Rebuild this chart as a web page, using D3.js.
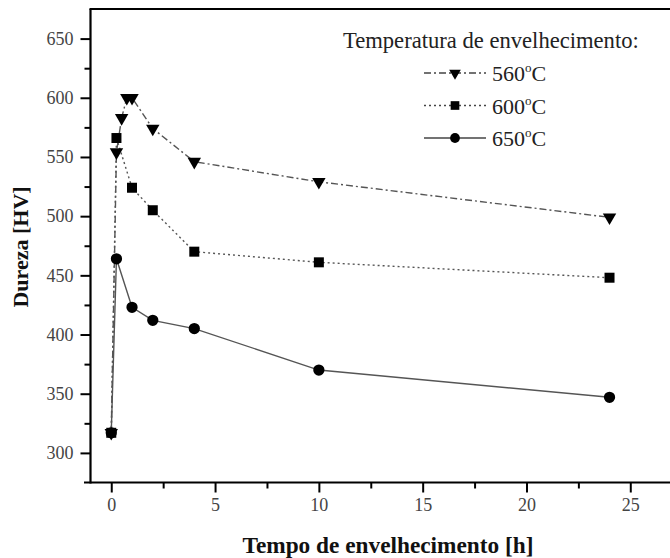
<!DOCTYPE html>
<html><head><meta charset="utf-8">
<script src="https://cdn.jsdelivr.net/npm/d3@7"></script>
<style>
body{margin:0;background:#fff;}
svg{display:block;}
text{font-family:"Liberation Serif","Times New Roman",serif;}
</style></head>
<body><svg id="c" width="670" height="558"></svg>
<script>
// Data (hours, hardness HV)
const times560 = [0, 0.25, 0.5, 0.75, 1, 2, 4, 10, 24];
const hv560    = [317, 554, 583, 600, 600, 574, 546, 529, 499];
const times600 = [0, 0.25, 1, 2, 4, 10, 24];
const hv600    = [317, 566, 524, 505, 470, 461, 448];
const times650 = [0, 0.25, 1, 2, 4, 10, 24];
const hv650    = [317, 464, 423, 412, 405, 370, 347];
const seriesNames = ["560", "600", "650"];
const xTicks = [0, 5, 10, 15, 20, 25];
const xMinor = [2.5, 7.5, 12.5, 17.5, 22.5];
const yTicks = [300, 350, 400, 450, 500, 550, 600, 650];
const yMinor = [325, 375, 425, 475, 525, 575, 625];

const svg = d3.select("#c");
const x = d3.scaleLinear().domain([-1, 27]).range([90.5, 671.8]);
const y = d3.scaleLinear().domain([275, 675]).range([482.5, 9]);

const series = [
  {name: seriesNames[0], t: times560, v: hv560, dash: "7,3,2,3", sym: d3.symbolTriangle, rot: 180, size: 78},
  {name: seriesNames[1], t: times600, v: hv600, dash: "2,3", sym: d3.symbolSquare, rot: 0, size: 100},
  {name: seriesNames[2], t: times650, v: hv650, dash: null, sym: d3.symbolCircle, rot: 0, size: 100}
];

// frame
svg.append("line").attr("x1", 84).attr("x2", 672).attr("y1", y(275)).attr("y2", y(275)).attr("stroke", "#000").attr("stroke-width", 2.2);
svg.append("line").attr("x1", x(-1)).attr("x2", x(-1)).attr("y1", y(675)).attr("y2", y(275)+1).attr("stroke", "#000").attr("stroke-width", 2.2);
svg.append("line").attr("x1", x(-1)-1).attr("x2", 672).attr("y1", y(675)).attr("y2", y(675)).attr("stroke", "#000").attr("stroke-width", 2.2);

// axes
const gx = svg.append("g").attr("transform", `translate(0,${y(275)})`)
  .call(d3.axisBottom(x).tickValues(xTicks).tickSize(10).tickPadding(6).tickFormat(d3.format("d")));
const gxm = svg.append("g").attr("transform", `translate(0,${y(275)})`)
  .call(d3.axisBottom(x).tickValues(xMinor).tickSize(6).tickFormat(""));
const gy = svg.append("g").attr("transform", `translate(${x(-1)},0)`)
  .call(d3.axisLeft(y).tickValues(yTicks).tickSize(10).tickPadding(7).tickFormat(d3.format("d")));
const gym = svg.append("g").attr("transform", `translate(${x(-1)},0)`)
  .call(d3.axisLeft(y).tickValues(yMinor).tickSize(6).tickFormat(""));
[gx, gxm, gy, gym].forEach(g => {
  g.select(".domain").remove();
  g.selectAll(".tick line").attr("stroke", "#000").attr("stroke-width", 2);
  g.selectAll(".tick text").attr("font-size", 18).attr("fill", "#444")
    .attr("font-family", "Liberation Serif, serif");
});

// lines & markers
const line = d3.line().x(d => x(d[0])).y(d => y(d[1]));
[series[2], series[0], series[1]].forEach(s => {
  const pts = s.t.map((t, i) => [t, s.v[i]]);
  svg.append("path").datum(pts).attr("d", line).attr("fill", "none")
    .attr("stroke", "#555").attr("stroke-width", 1.4)
    .attr("stroke-dasharray", s.dash);
});
[series[2], series[0], series[1]].forEach(s => {
  const pts = s.t.map((t, i) => [t, s.v[i]]);
  svg.append("g").selectAll("path").data(pts).join("path")
    .attr("d", d3.symbol().type(s.sym).size(s.size))
    .attr("transform", d => `translate(${x(d[0])},${y(d[1])}) rotate(${s.rot})`)
    .attr("fill", "#000");
});

// axis titles
svg.append("text").attr("x", 388).attr("y", 553).attr("text-anchor", "middle")
  .attr("font-size", 23.3).attr("font-weight", "bold").attr("fill", "#111")
  .text("Tempo de envelhecimento [h]");
svg.append("text").attr("transform", "translate(28,247) rotate(-90)").attr("text-anchor", "middle")
  .attr("font-size", 22).attr("font-weight", "bold").attr("fill", "#111")
  .text("Dureza [HV]");

// legend
svg.append("text").attr("x", 343).attr("y", 48).attr("font-size", 22.6).attr("fill", "#222")
  .text("Temperatura de envelhecimento:");
const rows = [73, 105.5, 138];
series.forEach((s, i) => {
  const ry = rows[i];
  svg.append("line").attr("x1", 424).attr("x2", 486).attr("y1", ry).attr("y2", ry)
    .attr("stroke", "#444").attr("stroke-width", 1.4).attr("stroke-dasharray", s.dash);
  svg.append("path").attr("d", d3.symbol().type(s.sym).size(s.size * 0.75))
    .attr("transform", `translate(455,${ry}) rotate(${s.rot})`).attr("fill", "#000");
  const t = svg.append("text").attr("x", 492).attr("y", ry + 8).attr("font-size", 22).attr("fill", "#222");
  t.append("tspan").text(s.name);
  t.append("tspan").attr("dy", -9).attr("font-size", 13).text("o");
  t.append("tspan").attr("dy", 9).text("C");
});
</script></body></html>
